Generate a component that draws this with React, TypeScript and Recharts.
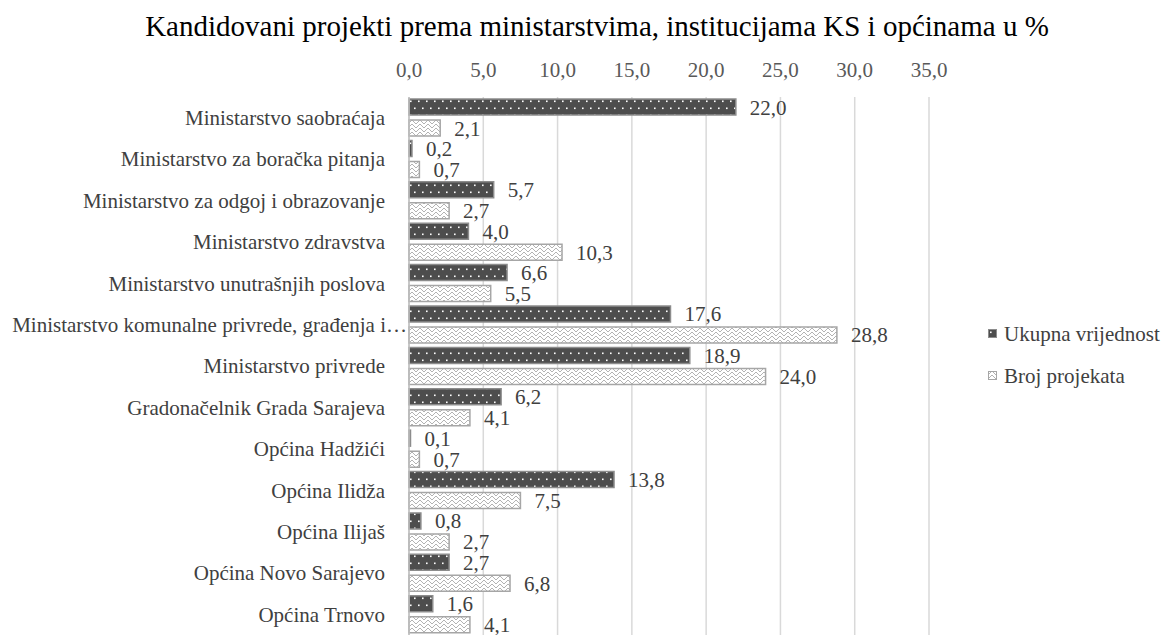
import React from 'react';
import { BarChart, Bar, XAxis, YAxis, CartesianGrid, LabelList, Legend } from 'recharts';

const categories = [
  'Ministarstvo saobraćaja',
  'Ministarstvo za boračka pitanja',
  'Ministarstvo za odgoj i obrazovanje',
  'Ministarstvo zdravstva',
  'Ministarstvo unutrašnjih poslova',
  'Ministarstvo komunalne privrede, građenja i…',
  'Ministarstvo privrede',
  'Gradonačelnik Grada Sarajeva',
  'Općina Hadžići',
  'Općina Ilidža',
  'Općina Ilijaš',
  'Općina Novo Sarajevo',
  'Općina Trnovo',
];
const ukupnaVrijednost = [22.0, 0.2, 5.7, 4.0, 6.6, 17.6, 18.9, 6.2, 0.1, 13.8, 0.8, 2.7, 1.6];
const brojProjekata = [2.1, 0.7, 2.7, 10.3, 5.5, 28.8, 24.0, 4.1, 0.7, 7.5, 2.7, 6.8, 4.1];
const xTicks = [0, 5, 10, 15, 20, 25, 30, 35];

const data = categories.map((name, i) => ({
  name,
  ukupna: ukupnaVrijednost[i],
  broj: brojProjekata[i],
}));

const fmt = (v: number) => v.toFixed(1).replace('.', ',');
const FONT = "'Liberation Serif', 'DejaVu Serif', 'Noto Serif', Tinos, 'Times New Roman', serif";
const TXT = '#404040';
const FS = 21;

const CatTick = (props: any) => {
  const { x, y, payload } = props;
  const long = payload.value.endsWith('…');
  return (
    <text x={long ? x + 22 : x} y={y} dy="0.35em" textAnchor="end" fontSize={FS} style={{ fontFamily: FONT }} fill={TXT}>
      {payload.value}
    </text>
  );
};

const LegendContent = () => (
  <div style={{ fontFamily: FONT, fontSize: FS, color: TXT }}>
    <div style={{ display: 'flex', alignItems: 'center', height: 42 }}>
      <svg width={12} height={10} style={{ marginRight: 4 }}>
        <rect x={0.5} y={0.5} width={8} height={8} fill="url(#dotsPat)" stroke="#8c8c8c" />
      </svg>
      <span>Ukupna vrijednost</span>
    </div>
    <div style={{ display: 'flex', alignItems: 'center', height: 42 }}>
      <svg width={12} height={10} style={{ marginRight: 4 }}>
        <rect x={0.5} y={0.5} width={8} height={8} fill="url(#weavePat)" stroke="#a6a6a6" />
      </svg>
      <span>Broj projekata</span>
    </div>
  </div>
);

export default function App() {
  return (
    <div style={{ position: 'absolute', left: 0, top: 0, width: 1170, height: 635, background: '#fff', fontFamily: FONT }}>
      <svg width={0} height={0} style={{ position: 'absolute' }}>
        <defs>
          <pattern id="dotsPat" patternUnits="userSpaceOnUse" width={8} height={14}>
            <rect width={8} height={14} fill="#4d4d4d" />
            <rect x={2} y={2.5} width={1.6} height={1.6} fill="#ffffff" />
            <rect x={6} y={9.5} width={1.6} height={1.6} fill="#ffffff" />
          </pattern>
          <pattern id="weavePat" patternUnits="userSpaceOnUse" width={8} height={8}>
            <rect width={8} height={8} fill="#ffffff" />
            <path d="M0 4 L4 0 L8 4 M0 8 L4 4 L8 8" stroke="#b3b3b3" strokeWidth={1} fill="none" />
          </pattern>
        </defs>
      </svg>
      <div
        style={{
          position: 'absolute',
          top: 9,
          left: 24,
          width: 1146,
          textAlign: 'center',
          fontFamily: FONT,
          fontSize: 29,
          lineHeight: '34px',
          color: '#000',
          whiteSpace: 'nowrap',
        }}
      >
        Kandidovani projekti prema ministarstvima, institucijama KS i općinama u %
      </div>
      <BarChart
        width={1170}
        height={635}
        data={data}
        layout="vertical"
        margin={{ top: 67, right: 241, bottom: 0, left: 0 }}
        barCategoryGap="5%"
        barGap={5}
        style={{ position: 'absolute', left: 0, top: 0 }}
      >
        <CartesianGrid horizontal={false} vertical={true} stroke="#d9d9d9" strokeWidth={1.5} />
        <XAxis
          type="number"
          orientation="top"
          domain={[0, 35]}
          ticks={xTicks}
          tickFormatter={fmt}
          axisLine={false}
          tickLine={false}
          tickSize={0}
          tickMargin={20}
          height={30}
          interval={0}
          tick={{ fontSize: FS, style: { fontFamily: FONT }, fill: '#595959' }}
        />
        <YAxis
          type="category"
          dataKey="name"
          width={409}
          axisLine={{ stroke: '#bfbfbf', strokeWidth: 1.5 }}
          tickLine={false}
          tickSize={0}
          tickMargin={24}
          interval={0}
          tick={<CatTick />}
        />
        <Legend
          layout="vertical"
          align="center"
          verticalAlign="middle"
          wrapperStyle={{ left: 988, top: 313, width: 182 }}
          content={<LegendContent />}
        />
        <Bar dataKey="ukupna" name="Ukupna vrijednost" fill="url(#dotsPat)" stroke="#8c8c8c" strokeWidth={1.5} isAnimationActive={false}>
          <LabelList dataKey="ukupna" position="right" offset={14} formatter={(v: any) => fmt(Number(v))} style={{ fontSize: FS, fontFamily: FONT, fill: TXT }} />
        </Bar>
        <Bar dataKey="broj" name="Broj projekata" fill="url(#weavePat)" stroke="#a6a6a6" strokeWidth={1.5} isAnimationActive={false}>
          <LabelList dataKey="broj" position="right" offset={14} formatter={(v: any) => fmt(Number(v))} style={{ fontSize: FS, fontFamily: FONT, fill: TXT }} />
        </Bar>
      </BarChart>
    </div>
  );
}
